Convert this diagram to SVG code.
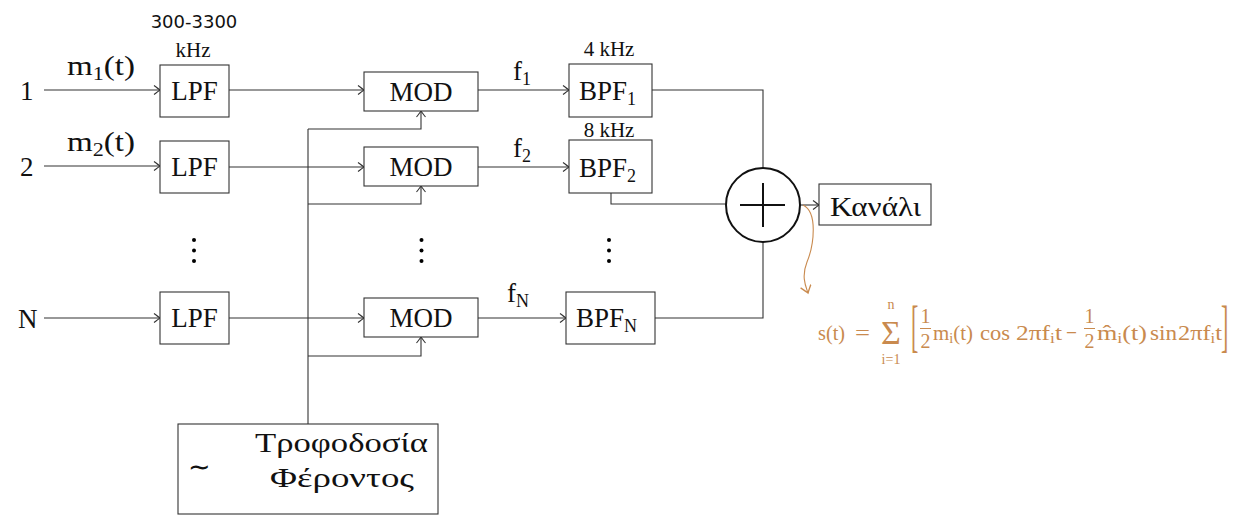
<svg xmlns="http://www.w3.org/2000/svg" width="1239" height="515" viewBox="0 0 1239 515">
<defs>
<style>
.ln{fill:none;stroke:#333;stroke-width:1.1}
.bx{fill:#fff;stroke:#333;stroke-width:1.1}
.t{font-family:"Liberation Serif",serif;font-size:27px;fill:#111}
.s{font-family:"Liberation Serif",serif;font-size:21px;fill:#111}
.sub{font-size:18px}
.f{font-family:"Liberation Serif",serif;font-size:22px;fill:#C98A4E}
.fs{font-size:15px}
.fr{font-size:20px}
</style>
<marker id="ar" markerWidth="10" markerHeight="10" viewBox="-8 -5 10 10" refX="0" refY="0" orient="auto" markerUnits="userSpaceOnUse">
<path d="M -6 -4.5 Q -1.5 -1 0 0 Q -1.5 1 -6 4.5" fill="none" stroke="#333" stroke-width="1.1"/>
</marker>
<marker id="aro" markerWidth="12" markerHeight="12" viewBox="-8 -5 10 10" refX="0" refY="0" orient="auto" markerUnits="userSpaceOnUse">
<path d="M -6 -4.5 Q -1.5 -1 0 0 Q -1.5 1 -6 4.5" fill="none" stroke="#C98A4E" stroke-width="1.1"/>
</marker>
</defs>
<rect width="1239" height="515" fill="#fff"/>

<g id="connectors">
<path class="ln" d="M44 90 H160" marker-end="url(#ar)"/>
<path class="ln" d="M44 166 H160" marker-end="url(#ar)"/>
<path class="ln" d="M44 318 H160" marker-end="url(#ar)"/>
<path class="ln" d="M229 90 H364" marker-end="url(#ar)"/>
<path class="ln" d="M229 167 H364" marker-end="url(#ar)"/>
<path class="ln" d="M229 318 H364" marker-end="url(#ar)"/>
<path class="ln" d="M308 424 V129"/>
<path class="ln" d="M308 129 H421 V111" marker-end="url(#ar)"/>
<path class="ln" d="M308 204 H421 V186" marker-end="url(#ar)"/>
<path class="ln" d="M308 356 H421 V337" marker-end="url(#ar)"/>
<path class="ln" d="M478 90 H569" marker-end="url(#ar)"/>
<path class="ln" d="M478 167 H569" marker-end="url(#ar)"/>
<path class="ln" d="M478 318 H566" marker-end="url(#ar)"/>
<path class="ln" d="M652 90 H763 V168"/>
<path class="ln" d="M611 193 V204 H726"/>
<path class="ln" d="M655 318 H763 V242"/>
<path class="ln" d="M800 205 H819" marker-end="url(#ar)"/>
<path d="M803 205 C818 212 814 245 807 262 C801 277 806 287 808 293" fill="none" stroke="#C98A4E" stroke-width="1.1" marker-end="url(#aro)"/>
</g>

<g id="in1"><text class="t" x="20" y="100">1</text><text class="t" x="67" y="75" textLength="68" lengthAdjust="spacingAndGlyphs">m<tspan class="sub" dy="5">1</tspan><tspan dy="-5">(t)</tspan></text></g>
<g id="in2"><text class="t" x="20" y="176">2</text><text class="t" x="67" y="151" textLength="68" lengthAdjust="spacingAndGlyphs">m<tspan class="sub" dy="5">2</tspan><tspan dy="-5">(t)</tspan></text></g>
<g id="inN"><text class="t" x="18" y="328">N</text></g>

<g id="lpf1"><rect class="bx" x="160" y="65" width="69" height="52"/><text class="t" x="194.5" y="100" text-anchor="middle">LPF</text>
<text x="194" y="28" text-anchor="middle" style="font-family:'DejaVu Sans',sans-serif;font-size:18px;fill:#111">300-3300</text>
<text class="s" x="193" y="57" text-anchor="middle">kHz</text></g>
<g id="lpf2"><rect class="bx" x="160" y="141" width="69" height="52"/><text class="t" x="194.5" y="176" text-anchor="middle">LPF</text></g>
<g id="lpfN"><rect class="bx" x="160" y="292" width="69" height="52"/><text class="t" x="194.5" y="327" text-anchor="middle">LPF</text></g>

<g id="dots1"><circle cx="194" cy="240" r="2"/><circle cx="194" cy="250.5" r="2"/><circle cx="194" cy="261" r="2"/></g>
<g id="dots2"><circle cx="421.5" cy="240" r="2"/><circle cx="421.5" cy="250.5" r="2"/><circle cx="421.5" cy="261" r="2"/></g>
<g id="dots3"><circle cx="609" cy="240" r="2"/><circle cx="609" cy="250.5" r="2"/><circle cx="609" cy="261" r="2"/></g>

<g id="mod1"><rect class="bx" x="364" y="72" width="114" height="39"/><text class="t" x="421" y="101" text-anchor="middle">MOD</text></g>
<g id="mod2"><rect class="bx" x="364" y="147" width="114" height="39"/><text class="t" x="421" y="176" text-anchor="middle">MOD</text></g>
<g id="modN"><rect class="bx" x="364" y="298" width="114" height="39"/><text class="t" x="421" y="327" text-anchor="middle">MOD</text></g>

<g id="lbl-f"><text class="t" x="513" y="80">f<tspan class="sub" dy="5">1</tspan></text>
<text class="t" x="513" y="157">f<tspan class="sub" dy="5">2</tspan></text>
<text class="t" x="507" y="302">f<tspan class="sub" dy="5">N</tspan></text></g>

<g id="bpf1"><rect class="bx" x="569" y="64" width="83" height="53"/><text class="t" x="579" y="100">BPF<tspan class="sub" dy="5">1</tspan></text>
<text class="s" x="609" y="56" text-anchor="middle">4 kHz</text></g>
<g id="bpf2"><rect class="bx" x="569" y="140" width="83" height="53"/><text class="t" x="579" y="177">BPF<tspan class="sub" dy="5">2</tspan></text>
<text class="s" x="609" y="137" text-anchor="middle">8 kHz</text></g>
<g id="bpfN"><rect class="bx" x="566" y="292" width="89" height="52"/><text class="t" x="576" y="327">BPF<tspan class="sub" dy="5">N</tspan></text></g>

<g id="sum"><circle cx="763" cy="205" r="37" fill="#fff" stroke="#111" stroke-width="2"/>
<path d="M740 205 H785 M763 183 V227" stroke="#111" stroke-width="2" fill="none"/></g>

<g id="channel"><rect class="bx" x="819" y="184" width="112" height="41"/><text class="t" x="830" y="216" textLength="91" lengthAdjust="spacingAndGlyphs">Κανάλι</text></g>

<g id="carrier"><rect class="bx" x="178" y="424" width="260" height="90"/>
<text class="t" x="188" y="476">∼</text>
<text class="t" x="255" y="452" textLength="173" lengthAdjust="spacingAndGlyphs" style="font-size:27px">Τροφοδοσία</text>
<text class="t" x="270" y="487" textLength="144" lengthAdjust="spacingAndGlyphs" style="font-size:27px">Φέροντος</text></g>

<g id="formula">
<text class="f" x="818" y="340" textLength="27" lengthAdjust="spacingAndGlyphs">s(t)</text>
<text class="f" x="855" y="340" textLength="15" lengthAdjust="spacingAndGlyphs">=</text>
<text class="f" x="891" y="344" text-anchor="middle" style="font-size:34px">Σ</text>
<text class="f" x="891" y="309" text-anchor="middle" style="font-size:14px">n</text>
<text class="f" x="891" y="364" text-anchor="middle" style="font-size:14px">i=1</text>
<text class="f" transform="translate(911 345) scale(1 2.6)">[</text>
<text class="f fr" x="925.5" y="323" text-anchor="middle">1</text>
<line x1="920" y1="328.5" x2="931" y2="328.5" stroke="#C98A4E" stroke-width="1"/>
<text class="f fr" x="925.5" y="348" text-anchor="middle">2</text>
<text class="f" x="933" y="340" textLength="40" lengthAdjust="spacingAndGlyphs">m<tspan class="fs" dy="3">i</tspan><tspan dy="-3">(t)</tspan></text>
<text class="f" x="980" y="340" textLength="30" lengthAdjust="spacingAndGlyphs">cos</text>
<text class="f" x="1016" y="340" textLength="46" lengthAdjust="spacingAndGlyphs">2πf<tspan class="fs" dy="3">i</tspan><tspan dy="-3">t</tspan></text>
<text class="f" x="1066" y="340" textLength="11" lengthAdjust="spacingAndGlyphs">−</text>
<text class="f fr" x="1089.5" y="323" text-anchor="middle">1</text>
<line x1="1084" y1="328.5" x2="1095" y2="328.5" stroke="#C98A4E" stroke-width="1"/>
<text class="f fr" x="1089.5" y="348" text-anchor="middle">2</text>
<text class="f" x="1097" y="340" textLength="50" lengthAdjust="spacingAndGlyphs">m̂<tspan class="fs" dy="3">i</tspan><tspan dy="-3">(t)</tspan></text>
<text class="f" x="1150" y="340" textLength="27" lengthAdjust="spacingAndGlyphs">sin</text>
<text class="f" x="1178" y="340" textLength="44" lengthAdjust="spacingAndGlyphs">2πf<tspan class="fs" dy="3">i</tspan><tspan dy="-3">t</tspan></text>
<text class="f" transform="translate(1221 345) scale(1 2.6)">]</text>
</g>
</svg>
